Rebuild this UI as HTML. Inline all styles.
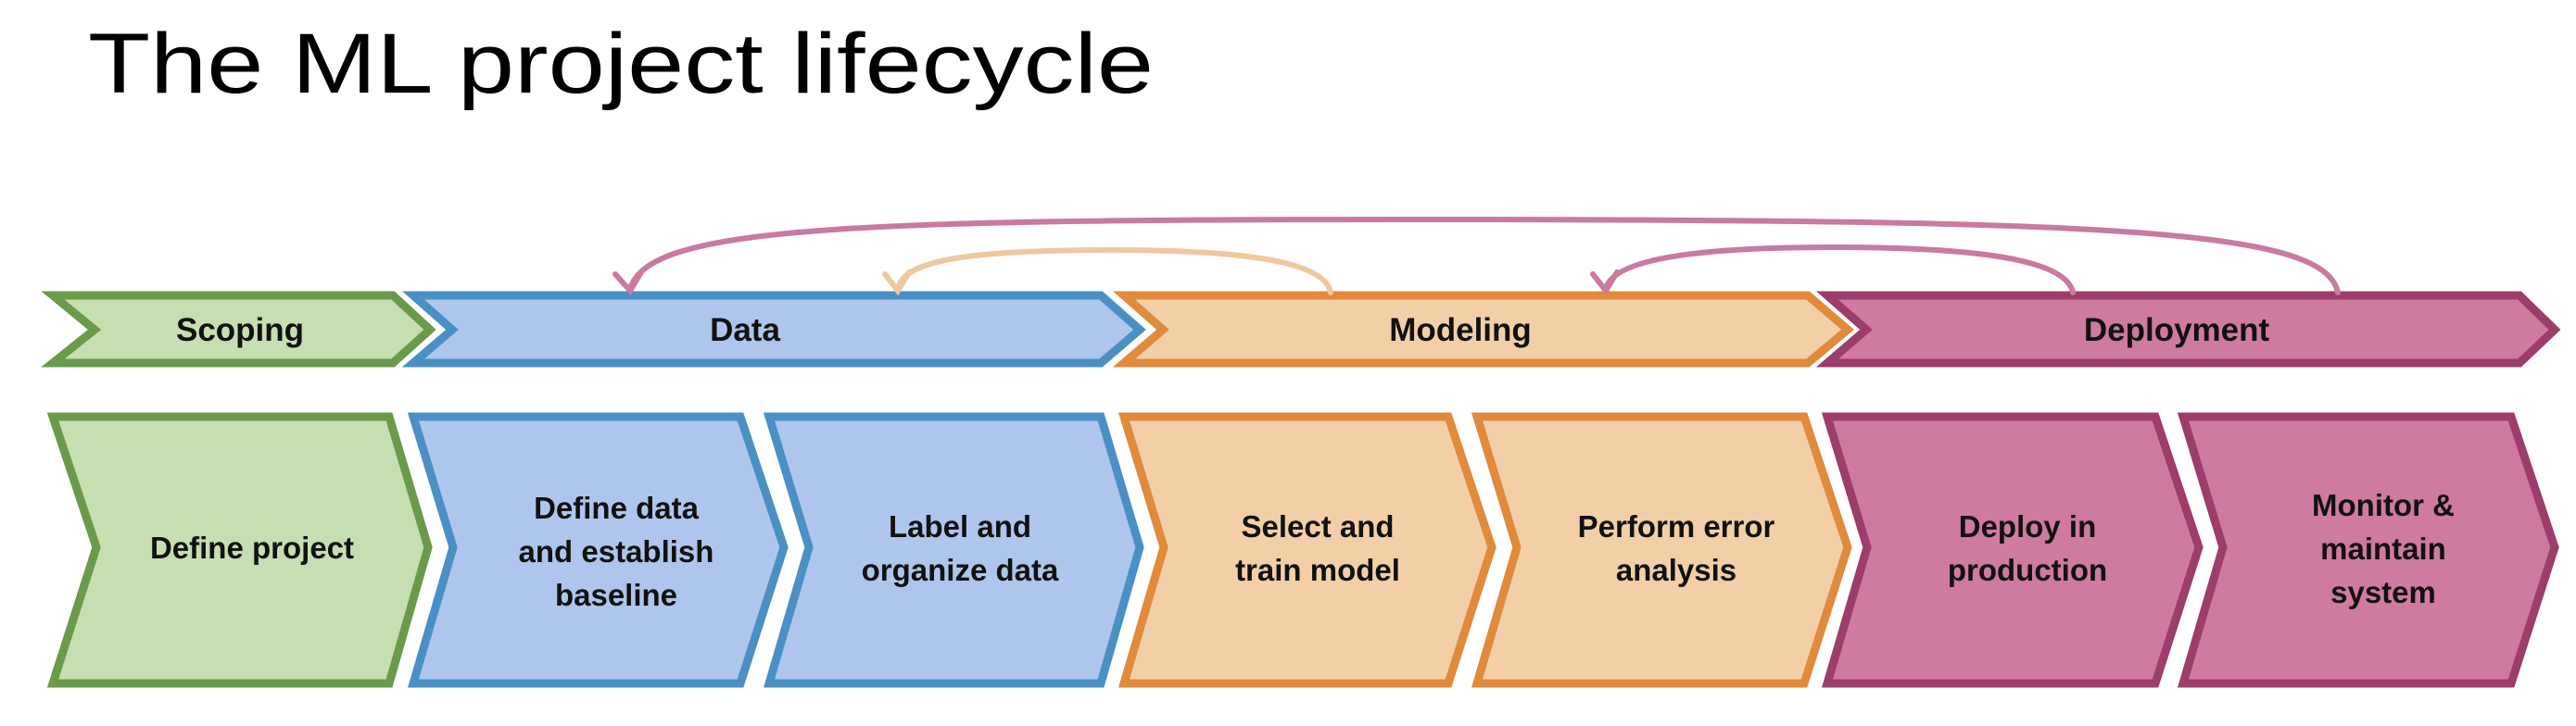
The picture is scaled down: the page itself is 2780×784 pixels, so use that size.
<!DOCTYPE html>
<html><head><meta charset="utf-8"><style>
html,body{margin:0;padding:0;background:#fff;}
svg{display:block;}
text{font-family:"Liberation Sans",Arial,sans-serif;}
.t{font-weight:bold;font-size:33px;fill:#111;text-anchor:middle;}
.h{font-weight:bold;font-size:35px;fill:#111;text-anchor:middle;}
</style></head><body>
<svg width="2780" height="784" viewBox="0 0 2780 784" xmlns="http://www.w3.org/2000/svg">
<text x="95" y="100" font-size="92" fill="#000" textLength="1150" lengthAdjust="spacingAndGlyphs">The ML project lifecycle</text>

<!-- header chevrons -->
<g stroke-width="9" stroke-linejoin="miter">
<polygon points="57,319 424,319 464,356 424,392 57,392 102,356" fill="#c5deb2" stroke="#6a9a4a"/>
<polygon points="446,319 1188,319 1230,356 1188,392 446,392 488,356" fill="#aec6ec" stroke="#4a90c4"/>
<polygon points="1213,319 1951,319 1994,356 1951,392 1213,392 1255,356" fill="#f3cfa8" stroke="#e08a3c"/>
<polygon points="1972,319 2719,319 2757,356 2719,392 1972,392 2014,356" fill="#cf7aa0" stroke="#9c3d6c"/>
</g>
<text class="h" x="259" y="368">Scoping</text>
<text class="h" x="804" y="368">Data</text>
<text class="h" x="1576" y="368">Modeling</text>
<text class="h" x="2349" y="368">Deployment</text>

<!-- bottom chevrons -->
<g stroke-width="9">
<polygon points="57,450 420,450 462,591 420,738 57,738 104,591" fill="#c5deb2" stroke="#6a9a4a"/>
<polygon points="446,450 799,450 846,591 799,738 446,738 489,591" fill="#aec6ec" stroke="#4a90c4"/>
<polygon points="830,450 1188,450 1230,591 1188,738 830,738 873,591" fill="#aec6ec" stroke="#4a90c4"/>
<polygon points="1213,450 1563,450 1610,591 1563,738 1213,738 1256,591" fill="#f3cfa8" stroke="#e08a3c"/>
<polygon points="1594,450 1947,450 1994,591 1947,738 1594,738 1637,591" fill="#f3cfa8" stroke="#e08a3c"/>
<polygon points="1972,450 2326,450 2373,591 2326,738 1972,738 2015,591" fill="#cf7aa0" stroke="#9c3d6c"/>
<polygon points="2356,450 2710,450 2757,591 2710,738 2356,738 2399,591" fill="#cf7aa0" stroke="#9c3d6c"/>
</g>
<text class="t" x="272" y="603">Define project</text>
<text class="t" x="665" y="560">Define data</text>
<text class="t" x="665" y="607">and establish</text>
<text class="t" x="665" y="654">baseline</text>
<text class="t" x="1036" y="580">Label and</text>
<text class="t" x="1036" y="627">organize data</text>
<text class="t" x="1422" y="580">Select and</text>
<text class="t" x="1422" y="627">train model</text>
<text class="t" x="1809" y="580">Perform error</text>
<text class="t" x="1809" y="627">analysis</text>
<text class="t" x="2188" y="580">Deploy in</text>
<text class="t" x="2188" y="627">production</text>
<text class="t" x="2572" y="557">Monitor &amp;</text>
<text class="t" x="2572" y="604">maintain</text>
<text class="t" x="2572" y="651">system</text>

<!-- feedback arrows -->
<g fill="none" stroke-width="6" stroke-linecap="round">
<path d="M2523,316 C2510,250 2300,238 1600,237 C900,236 700,245 680,312" stroke="#c87aa0"/>
<path d="M664,296 L680,314 L692,294" stroke="#c87aa0"/>
<path d="M1436,316 C1430,280 1330,270 1200,270 C1050,270 975,280 969,312" stroke="#f0c8a0"/>
<path d="M955,296 L969,314 L981,294" stroke="#f0c8a0"/>
<path d="M2237,316 C2230,278 2120,267 1980,267 C1830,267 1740,280 1733,312" stroke="#c87aa0"/>
<path d="M1719,296 L1733,314 L1745,294" stroke="#c87aa0"/>
</g>
</svg>
</body></html>
